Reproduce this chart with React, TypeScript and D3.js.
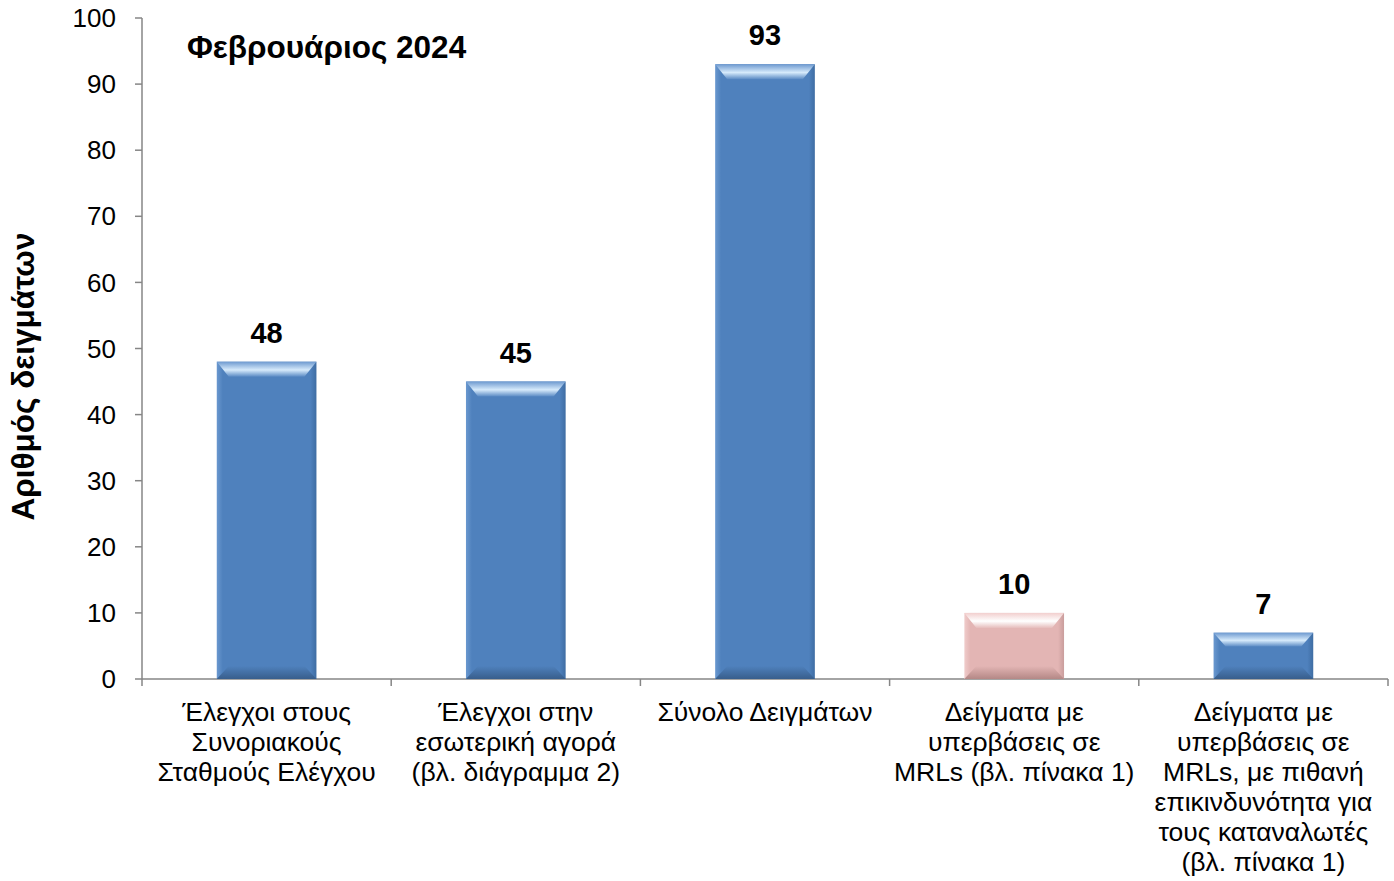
import React from 'react';
import * as d3 from 'd3';

const categories: string[][] = [
  ['Έλεγχοι στους', 'Συνοριακούς', 'Σταθμούς Ελέγχου'],
  ['Έλεγχοι στην', 'εσωτερική αγορά', '(βλ. διάγραμμα 2)'],
  ['Σύνολο Δειγμάτων'],
  ['Δείγματα με', 'υπερβάσεις σε', 'MRLs (βλ. πίνακα 1)'],
  ['Δείγματα με', 'υπερβάσεις σε', 'MRLs, με πιθανή', 'επικινδυνότητα για', 'τους καταναλωτές', '(βλ. πίνακα 1)'],
];
const values: number[] = [48, 45, 93, 10, 7];
const barTheme: string[] = ['blue', 'blue', 'blue', 'pink', 'blue'];
const yTicks: number[] = [0, 10, 20, 30, 40, 50, 60, 70, 80, 90, 100];

const W = 1394;
const H = 881;
const margin = { left: 142, right: 6, top: 18, bottom: 202 };
const font = '"Liberation Sans", Arial, sans-serif';

const themes: Record<string, { base: string; top: [string, string, string]; bottom: [string, string]; edgeL: string; edgeR: string }> = {
  blue: {
    base: '#4F81BD',
    top: ['#6E9AD0', '#D6EAFB', '#5A8AC4'],
    bottom: ['#4F81BD', '#385E8C'],
    edgeL: '#6A98CF',
    edgeR: '#3F6DA3',
  },
  pink: {
    base: '#E3B5B4',
    top: ['#F2CFCE', '#FFFFFF', '#E6BDBC'],
    bottom: ['#E3B5B4', '#B48886'],
    edgeL: '#F0CCCB',
    edgeR: '#C99D9C',
  },
};

const App: React.FC = () => {
  const x = d3
    .scaleBand<number>()
    .domain(values.map((_, i) => i))
    .range([margin.left, W - margin.right])
    .paddingInner(0.6)
    .paddingOuter(0.3);
  const step = (W - margin.right - margin.left) / values.length;
  const y = d3.scaleLinear().domain([0, 100]).range([H - margin.bottom, margin.top]);
  const y0 = y(0);

  return (
    <svg width={W} height={H} style={{ position: 'absolute', left: 0, top: 0, background: '#fff' }} fontFamily={font}>
      <defs>
        {Object.entries(themes).map(([k, t]) => (
          <React.Fragment key={k}>
            <linearGradient id={`top-${k}`} x1="0" y1="0" x2="0" y2="1">
              <stop offset="0" stopColor={t.top[0]} />
              <stop offset="0.55" stopColor={t.top[1]} />
              <stop offset="1" stopColor={t.top[2]} />
            </linearGradient>
            <linearGradient id={`bot-${k}`} x1="0" y1="0" x2="0" y2="1">
              <stop offset="0" stopColor={t.bottom[0]} />
              <stop offset="1" stopColor={t.bottom[1]} />
            </linearGradient>
            <linearGradient id={`side-${k}`} x1="0" y1="0" x2="1" y2="0">
              <stop offset="0" stopColor={t.edgeL} />
              <stop offset="0.06" stopColor={t.base} />
              <stop offset="0.94" stopColor={t.base} />
              <stop offset="1" stopColor={t.edgeR} />
            </linearGradient>
          </React.Fragment>
        ))}
      </defs>

      {/* y axis */}
      <line x1={margin.left} x2={margin.left} y1={y(100)} y2={y0} stroke="#868686" strokeWidth={1.5} />
      {yTicks.map((t) => (
        <g key={t}>
          <line x1={margin.left - 7} x2={margin.left} y1={y(t)} y2={y(t)} stroke="#868686" strokeWidth={1.5} />
          <text x={margin.left - 26} y={y(t)} dy="0.35em" textAnchor="end" fontSize={26} fill="#000">
            {t}
          </text>
        </g>
      ))}

      {/* x axis */}
      <line x1={margin.left} x2={W - margin.right} y1={y0} y2={y0} stroke="#868686" strokeWidth={1.5} />
      {d3.range(values.length + 1).map((i) => (
        <line
          key={i}
          x1={margin.left + i * step}
          x2={margin.left + i * step}
          y1={y0}
          y2={y0 + 7}
          stroke="#868686"
          strokeWidth={1.5}
        />
      ))}

      {/* bars */}
      {values.map((v, i) => {
        const t = barTheme[i];
        const x0 = x(i)!;
        const x1 = x0 + x.bandwidth();
        const yt = y(v);
        const h = y0 - yt;
        const bt = Math.min(15, h * 0.3);
        const bb = Math.min(13, h * 0.28);
        const bx = 12;
        return (
          <g key={i}>
            <rect x={x0} y={yt} width={x1 - x0} height={h} fill={`url(#side-${t})`} />
            <polygon
              points={`${x0},${yt} ${x1},${yt} ${x1 - bx},${yt + bt} ${x0 + bx},${yt + bt}`}
              fill={`url(#top-${t})`}
            />
            <polygon
              points={`${x0},${y0} ${x1},${y0} ${x1 - bx},${y0 - bb} ${x0 + bx},${y0 - bb}`}
              fill={`url(#bot-${t})`}
            />
            <text x={(x0 + x1) / 2} y={yt - 19} textAnchor="middle" fontSize={29} fontWeight="bold" fill="#000">
              {v}
            </text>
          </g>
        );
      })}

      {/* category labels */}
      {categories.map((lines, i) => (
        <text key={i} x={x(i)! + x.bandwidth() / 2} y={y0 + 42} textAnchor="middle" fontSize={26.5} fill="#000">
          {lines.map((l, j) => (
            <tspan key={j} x={x(i)! + x.bandwidth() / 2} dy={j === 0 ? 0 : 30}>
              {l}
            </tspan>
          ))}
        </text>
      ))}

      {/* titles */}
      <text x={187} y={58} fontSize={31.5} fontWeight="bold" fill="#000">
        Φεβρουάριος 2024
      </text>
      <text
        transform={`translate(34, ${(y(100) + y0) / 2 + 28}) rotate(-90)`}
        textAnchor="middle"
        fontSize={31.5}
        fontWeight="bold"
        fill="#000"
      >
        Αριθμός δειγμάτων
      </text>
    </svg>
  );
};

export default App;
